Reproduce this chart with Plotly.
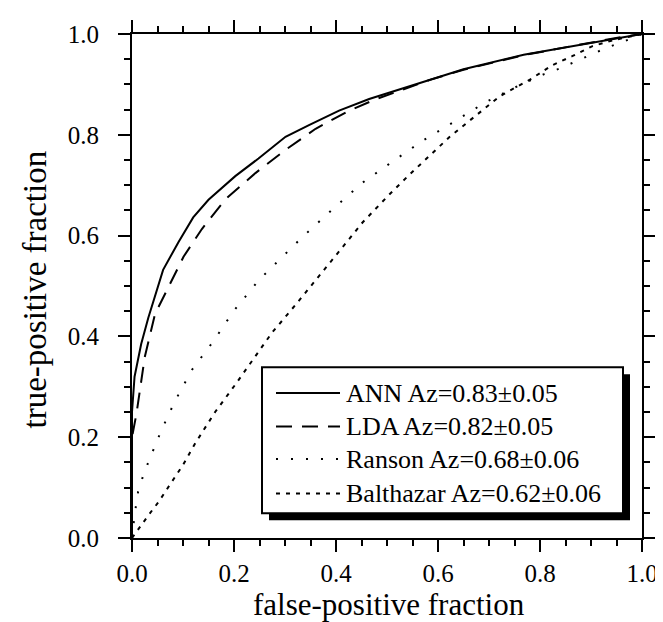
import plotly.graph_objects as go

# ---- data ----
ann_x = [0, 0, 0.005, 0.018, 0.032, 0.061, 0.091, 0.120, 0.150, 0.2025, 0.248, 0.301, 0.347, 0.406, 0.465, 0.505, 0.544, 0.584, 0.650, 0.768, 0.847, 0.913, 0.965, 1.0]
ann_y = [0, 0.25, 0.32, 0.385, 0.437, 0.532, 0.587, 0.636, 0.671, 0.718, 0.753, 0.796, 0.819, 0.848, 0.871, 0.884, 0.897, 0.910, 0.930, 0.959, 0.973, 0.986, 0.995, 1.0]

lda_x = [0, 0, 0.009, 0.025, 0.045, 0.070, 0.101, 0.137, 0.183, 0.242, 0.301, 0.360, 0.426, 0.479, 0.544, 0.584, 0.650, 0.768, 0.847, 0.913, 0.965, 1.0]
lda_y = [0, 0.20, 0.248, 0.359, 0.444, 0.495, 0.558, 0.613, 0.672, 0.724, 0.770, 0.812, 0.848, 0.871, 0.895, 0.909, 0.929, 0.958, 0.973, 0.986, 0.995, 1.0]

ranson_x = [0, 0.005, 0.012, 0.022, 0.033, 0.045, 0.057, 0.071, 0.085, 0.117, 0.160, 0.199, 0.249, 0.278, 0.334, 0.393, 0.452, 0.511, 0.571, 0.630, 0.692, 0.751, 0.807, 0.840, 0.870, 0.899, 0.931, 0.962, 1.0]
ranson_y = [0, 0.045, 0.092, 0.124, 0.153, 0.183, 0.212, 0.243, 0.273, 0.333, 0.391, 0.450, 0.512, 0.541, 0.597, 0.652, 0.705, 0.747, 0.789, 0.825, 0.864, 0.894, 0.920, 0.932, 0.945, 0.959, 0.973, 0.984, 1.0]

balth_x = [0, 0.018, 0.035, 0.051, 0.075, 0.100, 0.124, 0.163, 0.203, 0.235, 0.275, 0.321, 0.354, 0.400, 0.452, 0.505, 0.544, 0.584, 0.623, 0.663, 0.702, 0.722, 0.781, 0.824, 0.863, 0.903, 0.945, 1.0]
balth_y = [0, 0.026, 0.049, 0.070, 0.108, 0.145, 0.188, 0.250, 0.305, 0.350, 0.408, 0.463, 0.503, 0.561, 0.626, 0.682, 0.721, 0.760, 0.796, 0.829, 0.861, 0.877, 0.910, 0.938, 0.956, 0.976, 0.988, 1.0]

series_names = ["ANN Az=0.83±0.05", "LDA Az=0.82±0.05", "Ranson Az=0.68±0.06", "Balthazar Az=0.62±0.06"]
series_x = [ann_x, lda_x, ranson_x, balth_x]
series_y = [ann_y, lda_y, ranson_y, balth_y]
dashes = ["solid", "16px,10px", "2px,13px", "4px,6px"]

x_title = "false-positive fraction"
y_title = "true-positive fraction"

FONT = "Liberation Serif"

fig = go.Figure()
for nm, xs, ys, d in zip(series_names, series_x, series_y, dashes):
    fig.add_trace(go.Scatter(x=xs, y=ys, mode="lines", name=nm, showlegend=False,
                             line=dict(color="black", width=2, dash=d)))

axis_common = dict(
    range=[0, 1], tick0=0, dtick=0.2, tickformat=".1f",
    showline=True, linecolor="black", linewidth=2, mirror="ticks",
    ticks="outside", ticklen=12, tickwidth=2, tickcolor="black",
    minor=dict(ticks="outside", ticklen=6, tickwidth=1.5, dtick=0.05, tickcolor="black"),
    showgrid=False, zeroline=False,
    tickfont=dict(family=FONT, size=25, color="black"),
)
fig.update_xaxes(**axis_common, ticklabelstandoff=0)
fig.update_yaxes(**axis_common, ticklabelstandoff=14)

# ---- custom legend box with shadow ----
L, R, T, B = 254, 615, 357, 505
X0, X1, Y0, Y1 = 124, 634, 530, 19
px = lambda p: (p - X0) / (X1 - X0)
py = lambda p: (Y0 - p) / (Y0 - Y1)

shapes = []
shapes.append(dict(type="rect", xref="paper", yref="paper", layer="above",
                   x0=px(L + 7), x1=px(R + 7), y0=py(B + 7), y1=py(T + 7),
                   fillcolor="black", line=dict(color="black", width=0)))
shapes.append(dict(type="rect", xref="paper", yref="paper", layer="above",
                   x0=px(L), x1=px(R), y0=py(B), y1=py(T),
                   fillcolor="white", line=dict(color="black", width=2)))
rows = [383, 417, 450, 485]
annotations = []
for nm, d, r in zip(series_names, dashes, rows):
    shapes.append(dict(type="line", xref="paper", yref="paper", layer="above",
                       x0=px(268), x1=px(332), y0=py(r), y1=py(r),
                       line=dict(color="black", width=2, dash=d)))
    annotations.append(dict(xref="paper", yref="paper", x=px(336), y=py(r),
                            xanchor="left", yanchor="middle", showarrow=False,
                            text=nm, font=dict(family=FONT, size=26, color="black")))

annotations.append(dict(xref="paper", yref="paper", x=px(381), y=py(597),
                        xanchor="center", yanchor="middle", showarrow=False,
                        text=x_title, font=dict(family=FONT, size=31, color="black")))
annotations.append(dict(xref="paper", yref="paper", x=px(27), y=py(278),
                        xanchor="center", yanchor="middle", showarrow=False, textangle=-90,
                        text=y_title, font=dict(family=FONT, size=33, color="black")))

fig.update_layout(
    width=663, height=622,
    margin=dict(l=X0, r=663 - X1, t=Y1, b=622 - Y0),
    plot_bgcolor="white", paper_bgcolor="white",
    shapes=shapes, annotations=annotations, showlegend=False,
)

fig.write_html("out.html")
